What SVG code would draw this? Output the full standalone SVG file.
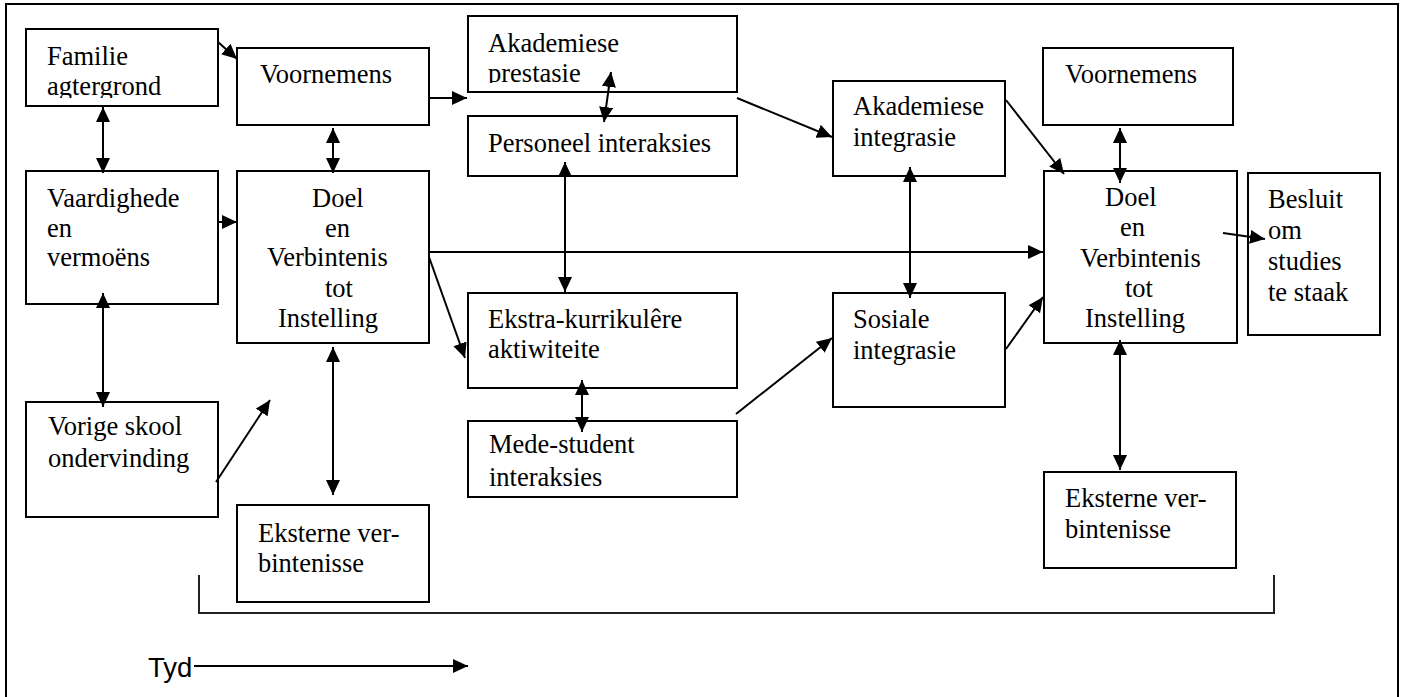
<svg xmlns="http://www.w3.org/2000/svg" width="1406" height="697" viewBox="0 0 1406 697">
  <defs>
    <style>
      .box { fill: #fff; stroke: #000; stroke-width: 2; }
      .lbl { font-family: "Liberation Serif", "Times New Roman", serif; font-size: 26.5px; fill: #000; }
      .sans { font-family: "Liberation Sans", Arial, sans-serif; font-size: 27.5px; fill: #000; }
      .ln { fill: none; stroke: #000; stroke-width: 2; }
      .one { marker-end: url(#head); }
      .two { marker-start: url(#head); marker-end: url(#head); }
      .frame { fill: none; stroke: #000; stroke-width: 2; }
      .bracket { fill: none; stroke: #222; stroke-width: 2; }
    </style>
    <marker id="head" viewBox="0 0 15 14" refX="15" refY="7" markerWidth="15" markerHeight="14" markerUnits="userSpaceOnUse" orient="auto-start-reverse">
      <path d="M0,0 L15,7 L0,14 z" fill="#000"/>
    </marker>
    <clipPath id="clipFamilie"><rect x="27" y="30" width="190" height="68"/></clipPath>
    <clipPath id="clipPrestasie"><rect x="469" y="17" width="267" height="66"/></clipPath>
  </defs>

  <!-- page frame -->
  <rect class="frame" x="6" y="4" width="1392" height="720"/>

  <!-- time bracket -->
  <polyline class="bracket" points="199,575 199,613 1274,613 1274,575"/>

  <!-- nodes -->
  <g id="familie">
    <rect class="box" x="26" y="29" width="192" height="77"/>
    <g clip-path="url(#clipFamilie)">
      <text class="lbl" x="47" y="65">Familie</text>
      <text class="lbl" x="47" y="95">agtergrond</text>
    </g>
  </g>
  <g id="voornemens-1">
    <rect class="box" x="237" y="48" width="192" height="77"/>
    <text class="lbl" x="260" y="83">Voornemens</text>
  </g>
  <g id="akademiese-prestasie">
    <rect class="box" x="468" y="16" width="269" height="76"/>
    <g clip-path="url(#clipPrestasie)">
      <text class="lbl" x="488" y="52">Akademiese</text>
      <text class="lbl" x="488" y="82">prestasie</text>
    </g>
  </g>
  <g id="personeel">
    <rect class="box" x="468" y="116" width="269" height="60"/>
    <text class="lbl" x="488" y="152">Personeel interaksies</text>
  </g>
  <g id="vaardighede">
    <rect class="box" x="26" y="171" width="192" height="133"/>
    <text class="lbl" x="47" y="207">Vaardighede</text>
    <text class="lbl" x="47" y="237">en</text>
    <text class="lbl" x="47" y="266">vermoëns</text>
  </g>
  <g id="doel-1">
    <rect class="box" x="237" y="171" width="192" height="172"/>
    <text class="lbl" x="312" y="207">Doel</text>
    <text class="lbl" x="325" y="237">en</text>
    <text class="lbl" x="267" y="266">Verbintenis</text>
    <text class="lbl" x="325" y="297">tot</text>
    <text class="lbl" x="278" y="327">Instelling</text>
  </g>
  <g id="vorige-skool">
    <rect class="box" x="26" y="402" width="192" height="115"/>
    <text class="lbl" x="48" y="435">Vorige skool</text>
    <text class="lbl" x="48" y="467">ondervinding</text>
  </g>
  <g id="eksterne-1">
    <rect class="box" x="237" y="505" width="192" height="97"/>
    <text class="lbl" x="258" y="542">Eksterne ver-</text>
    <text class="lbl" x="258" y="572">bintenisse</text>
  </g>
  <g id="ekstra">
    <rect class="box" x="468" y="293" width="269" height="95"/>
    <text class="lbl" x="488" y="328">Ekstra-kurrikulêre</text>
    <text class="lbl" x="488" y="358">aktiwiteite</text>
  </g>
  <g id="mede-student">
    <rect class="box" x="468" y="421" width="269" height="76"/>
    <text class="lbl" x="489" y="453">Mede-student</text>
    <text class="lbl" x="489" y="486">interaksies</text>
  </g>
  <g id="akademiese-integrasie">
    <rect class="box" x="833" y="81" width="172" height="95"/>
    <text class="lbl" x="853" y="115">Akademiese</text>
    <text class="lbl" x="853" y="146">integrasie</text>
  </g>
  <g id="sosiale-integrasie">
    <rect class="box" x="833" y="293" width="172" height="114"/>
    <text class="lbl" x="853" y="328">Sosiale</text>
    <text class="lbl" x="853" y="359">integrasie</text>
  </g>
  <g id="voornemens-2">
    <rect class="box" x="1043" y="48" width="190" height="77"/>
    <text class="lbl" x="1065" y="83">Voornemens</text>
  </g>
  <g id="doel-2">
    <rect class="box" x="1044" y="171" width="193" height="172"/>
    <text class="lbl" x="1105" y="206">Doel</text>
    <text class="lbl" x="1120" y="236">en</text>
    <text class="lbl" x="1080" y="267">Verbintenis</text>
    <text class="lbl" x="1125" y="297">tot</text>
    <text class="lbl" x="1085" y="327">Instelling</text>
  </g>
  <g id="besluit">
    <rect class="box" x="1248" y="173" width="132" height="162"/>
    <text class="lbl" x="1268" y="208">Besluit</text>
    <text class="lbl" x="1268" y="239">om</text>
    <text class="lbl" x="1268" y="270">studies</text>
    <text class="lbl" x="1268" y="301">te staak</text>
  </g>
  <g id="eksterne-2">
    <rect class="box" x="1044" y="472" width="192" height="96"/>
    <text class="lbl" x="1065" y="507">Eksterne ver-</text>
    <text class="lbl" x="1065" y="538">bintenisse</text>
  </g>

  <!-- connectors -->
  <g id="connectors">
    <line class="ln one" x1="218" y1="42" x2="237" y2="59"/>
    <line class="ln two" x1="103" y1="107" x2="103" y2="173"/>
    <line class="ln one" x1="218" y1="222" x2="237" y2="222"/>
    <line class="ln two" x1="103" y1="293" x2="103" y2="407"/>
    <line class="ln one" x1="216" y1="482" x2="270" y2="400"/>
    <line class="ln two" x1="333" y1="128" x2="333" y2="173"/>
    <line class="ln two" x1="333" y1="347" x2="333" y2="495"/>
    <line class="ln one" x1="430" y1="98" x2="467" y2="98"/>
    <line class="ln two" x1="611" y1="72" x2="604" y2="122"/>
    <line class="ln two" x1="565" y1="162" x2="565" y2="292"/>
    <line class="ln one" x1="429" y1="257" x2="465" y2="358"/>
    <line class="ln one" x1="430" y1="252" x2="1043" y2="252"/>
    <line class="ln two" x1="582" y1="380" x2="582" y2="432"/>
    <line class="ln one" x1="737" y1="98" x2="832" y2="137"/>
    <line class="ln one" x1="736" y1="414" x2="832" y2="338"/>
    <line class="ln two" x1="910" y1="167" x2="910" y2="298"/>
    <line class="ln one" x1="1006" y1="100" x2="1064" y2="174"/>
    <line class="ln one" x1="1006" y1="349" x2="1043" y2="297"/>
    <line class="ln two" x1="1120" y1="128" x2="1120" y2="183"/>
    <line class="ln one" x1="1223" y1="233" x2="1265" y2="239"/>
    <line class="ln two" x1="1120" y1="340" x2="1120" y2="470"/>
  </g>

  <!-- time axis -->
  <g id="tyd">
    <text class="sans" x="148" y="677">Tyd</text>
    <line class="ln one" x1="194" y1="666" x2="468" y2="666"/>
  </g>
</svg>
